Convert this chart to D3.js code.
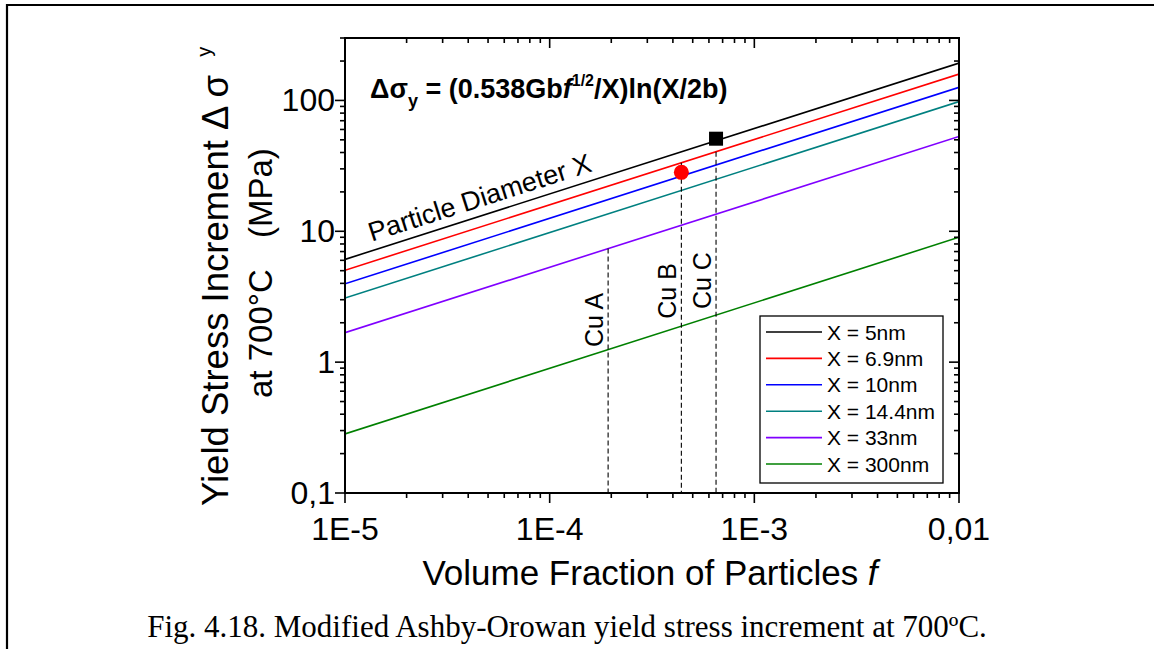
<!DOCTYPE html>
<html>
<head>
<meta charset="utf-8">
<script src="https://cdn.jsdelivr.net/npm/d3@7"></script>
<style>
  html, body { margin: 0; padding: 0; background: #fff; }
  svg { display: block; }
  .sans { font-family: Arial, "Liberation Sans", Helvetica, sans-serif; fill: #000; }
  .serif { font-family: "Liberation Serif", "Times New Roman", serif; fill: #000; }
</style>
</head>
<body>
<svg id="chart" width="1154" height="649"></svg>
<script>
// Particle diameters and the Orowan stress increment at the two ends of the f range (MPa)
const diameterLabels = ["X = 5nm", "X = 6.9nm", "X = 10nm", "X = 14.4nm", "X = 33nm", "X = 300nm"];
const lineColors = ["#000000", "#ff0000", "#0000ff", "#008080", "#8000ff", "#008000"];
const fEnds = [1e-5, 1e-2];
const stressAtLowF = [6.1, 5.04, 3.97, 3.09, 1.68, 0.283];
const stressAtHighF = [193, 159, 126, 98, 53, 9.0];

// Cu alloys: volume fraction, top of the dashed guide, label centre (MPa)
const cuNames = ["Cu A", "Cu B", "Cu C"];
const cuFraction = [1.93e-4, 4.4e-4, 6.5e-4];
const cuGuideTop = [7.4, 33.4, 40.6];
const cuLabelAt = [2.1, 3.5, 4.2];

// measured points
const squarePoint = [6.5e-4, 51];
const circlePoint = [4.4e-4, 28.2];

// axis ticks
const xMajor = [1e-5, 1e-4, 1e-3, 1e-2];
const xTickLabels = ["1E-5", "1E-4", "1E-3", "0,01"];
const yMajor = [0.1, 1, 10, 100];
const yTickLabels = ["0,1", "1", "10", "100"];
const xDomain = [1e-5, 1e-2];
const yDomain = [0.1, 300];

const svg = d3.select("#chart");

// page frame (table cell borders)
svg.append("line").attr("x1", 7).attr("x2", 1154).attr("y1", 5).attr("y2", 5)
  .attr("stroke", "#000").attr("stroke-width", 2.2);
svg.append("line").attr("x1", 7).attr("x2", 7).attr("y1", 4).attr("y2", 649)
  .attr("stroke", "#000").attr("stroke-width", 2.2);

const L = 345, R = 959, T = 38, B = 493;
const x = d3.scaleLog().domain(xDomain).range([L, R]);
const y = d3.scaleLog().domain(yDomain).range([B, T]);

// minor tick values
function minors(domain) {
  const out = [];
  const lo = Math.floor(Math.log10(domain[0])), hi = Math.ceil(Math.log10(domain[1]));
  for (let e = lo; e < hi; e++) for (let m = 2; m <= 9; m++) {
    const v = m * Math.pow(10, e);
    if (v > domain[0] * 1.0001 && v <= domain[1] * 1.0001) out.push(v);
  }
  return out;
}
const xMinor = minors(xDomain);
const yMinor = minors(yDomain);

const plot = svg.append("g");
svg.append("clipPath").attr("id", "plotclip").append("rect")
  .attr("x", L).attr("y", T).attr("width", R - L).attr("height", B - T);

// lines
const lineGen = d3.line().x(d => x(d[0])).y(d => y(d[1]));
const series = diameterLabels.map((name, i) => ({
  name, color: lineColors[i],
  pts: [[fEnds[0], stressAtLowF[i]], [fEnds[1], stressAtHighF[i]]]
}));
plot.append("g").attr("clip-path", "url(#plotclip)")
  .selectAll("path").data(series).join("path")
  .attr("d", d => lineGen(d.pts))
  .attr("fill", "none").attr("stroke", d => d.color).attr("stroke-width", 1.6);

// dashed guides
plot.selectAll("line.cu").data(cuNames).join("line").attr("class", "cu")
  .attr("x1", (d, i) => x(cuFraction[i])).attr("x2", (d, i) => x(cuFraction[i]))
  .attr("y1", (d, i) => y(cuGuideTop[i])).attr("y2", B)
  .attr("stroke", "#000").attr("stroke-width", 1.1).attr("stroke-dasharray", "5,3");

plot.selectAll("text.cu").data(cuNames).join("text").attr("class", "cu sans")
  .attr("transform", (d, i) => `translate(${x(cuFraction[i]) - 5},${y(cuLabelAt[i])}) rotate(-90)`)
  .attr("text-anchor", "middle").attr("font-size", 25).text(d => d);

// markers
plot.append("rect")
  .attr("x", x(squarePoint[0]) - 7).attr("y", y(squarePoint[1]) - 7)
  .attr("width", 14).attr("height", 14).attr("fill", "#000");
plot.append("circle")
  .attr("cx", x(circlePoint[0])).attr("cy", y(circlePoint[1])).attr("r", 7.5)
  .attr("fill", "#ff0000");

// axes frame
svg.append("rect").attr("x", L).attr("y", T).attr("width", R - L).attr("height", B - T)
  .attr("fill", "none").attr("stroke", "#000").attr("stroke-width", 2);

// ticks: left/bottom point outward, top/right point inward
const tk = svg.append("g").attr("stroke", "#000").attr("stroke-width", 1.6);
xMajor.forEach(v => {
  tk.append("line").attr("x1", x(v)).attr("x2", x(v)).attr("y1", B).attr("y2", B + 10);
  tk.append("line").attr("x1", x(v)).attr("x2", x(v)).attr("y1", T).attr("y2", T + 10);
});
xMinor.forEach(v => {
  tk.append("line").attr("x1", x(v)).attr("x2", x(v)).attr("y1", B).attr("y2", B + 5);
  tk.append("line").attr("x1", x(v)).attr("x2", x(v)).attr("y1", T).attr("y2", T + 5);
});
yMajor.forEach(v => {
  tk.append("line").attr("x1", L - 10).attr("x2", L).attr("y1", y(v)).attr("y2", y(v));
  tk.append("line").attr("x1", R - 10).attr("x2", R).attr("y1", y(v)).attr("y2", y(v));
});
yMinor.forEach(v => {
  tk.append("line").attr("x1", L - 5).attr("x2", L).attr("y1", y(v)).attr("y2", y(v));
  tk.append("line").attr("x1", R - 5).attr("x2", R).attr("y1", y(v)).attr("y2", y(v));
});

// tick labels
svg.selectAll("text.xt").data(xMajor).join("text").attr("class", "xt sans")
  .attr("x", d => x(d)).attr("y", B + 47).attr("text-anchor", "middle")
  .attr("font-size", 32).text((d, i) => xTickLabels[i]);
svg.selectAll("text.yt").data(yMajor).join("text").attr("class", "yt sans")
  .attr("x", L - 10).attr("y", d => y(d) + 11).attr("text-anchor", "end")
  .attr("font-size", 32).text((d, i) => yTickLabels[i]);

// axis titles
const xt = svg.append("text").attr("class", "sans").attr("x", 650).attr("y", 585)
  .attr("text-anchor", "middle").attr("font-size", 35);
xt.append("tspan").text("Volume Fraction of Particles ");
xt.append("tspan").attr("font-style", "italic").text("f");

const yt1 = svg.append("text").attr("class", "sans")
  .attr("transform", "translate(228,506) rotate(-90)").attr("font-size", 36.5);
yt1.append("tspan").text("Yield Stress Increment  \u0394 \u03c3 ");
yt1.append("tspan").attr("font-size", 20).attr("dx", 8).attr("dy", -17).text("y");
svg.append("text").attr("class", "sans").attr("transform", "translate(272,398) rotate(-90)")
  .attr("font-size", 33).text("at 700\u00b0C");
svg.append("text").attr("class", "sans").attr("transform", "translate(272,238) rotate(-90)")
  .attr("font-size", 33).text("(MPa)");

// formula
const fm = svg.append("text").attr("class", "sans").attr("x", 370).attr("y", 98)
  .attr("font-size", 27).attr("font-weight", "bold");
fm.append("tspan").text("\u0394\u03c3");
fm.append("tspan").attr("font-size", 18).attr("dy", 9).text("y");
fm.append("tspan").attr("dy", -9).text(" = (0.538Gb");
fm.append("tspan").attr("font-style", "italic").text("f");
fm.append("tspan").attr("font-size", 16).attr("dy", -12).text("1/2");
fm.append("tspan").attr("dy", 12).text("/X)ln(X/2b)");

// label along the X = 5 nm line
const labF = 1.35e-5;
const labV = stressAtLowF[0] * Math.pow(labF / fEnds[0], Math.log(stressAtHighF[0] / stressAtLowF[0]) / Math.log(fEnds[1] / fEnds[0]));
const ang = Math.atan2(y(stressAtHighF[0]) - y(stressAtLowF[0]), x(fEnds[1]) - x(fEnds[0])) * 180 / Math.PI;
svg.append("text").attr("class", "sans")
  .attr("transform", `translate(${x(labF)},${y(labV) - 9}) rotate(${ang})`)
  .attr("font-size", 27).text("Particle Diameter X");

// legend
const lg = svg.append("g");
lg.append("rect").attr("x", 760).attr("y", 316).attr("width", 183).attr("height", 167)
  .attr("fill", "#fff").attr("stroke", "#000").attr("stroke-width", 1.3);
series.forEach((s, i) => {
  const cy = 332 + i * 26.4;
  lg.append("line").attr("x1", 766).attr("x2", 822).attr("y1", cy).attr("y2", cy)
    .attr("stroke", s.color).attr("stroke-width", 1.6);
  lg.append("text").attr("class", "sans").attr("x", 827).attr("y", cy + 7.5)
    .attr("font-size", 21).text(s.name);
});

// caption
svg.append("text").attr("class", "serif").attr("x", 567).attr("y", 637)
  .attr("text-anchor", "middle").attr("font-size", 31)
  .text("Fig. 4.18. Modified Ashby-Orowan yield stress increment at 700\u00baC.");
</script>
</body>
</html>
